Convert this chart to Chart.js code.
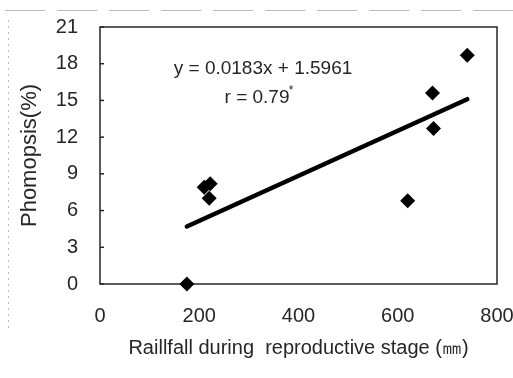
<!DOCTYPE html>
<html lang="en">
<head>
  <meta charset="UTF-8" />
  <title>Phomopsis vs rainfall</title>
  <script src="https://cdn.jsdelivr.net/npm/chart.js"></script>
  <style>
    body { margin: 0; background: #fff; }
    #wrap { width: 513px; height: 378px; }
  </style>
</head>
<body>
  <div id="wrap"><canvas id="chart" width="513" height="378"></canvas></div>
  <script>
    // observed points (rainfall mm, phomopsis %)
    const rainfall = [175, 210, 222, 220, 620, 670, 672, 740];
    const phomopsis = [0, 7.9, 8.2, 7.0, 6.8, 15.6, 12.7, 18.7];

    // regression line ends
    const fitX = [175, 740];
    const fitY = [4.7, 15.1];

    const xTicks = [0, 200, 400, 600, 800];
    const yTicks = [0, 3, 6, 9, 12, 15, 18, 21];

    const FONT = "'Liberation Sans', 'DejaVu Sans', sans-serif";
    const INK = '#262626';

    const pts = rainfall.map((x, i) => ({ x: x, y: phomopsis[i] }));
    const fit = fitX.map((x, i) => ({ x: x, y: fitY[i] }));

    const framePlugin = {
      id: 'frame',
      beforeDraw(chart) {
        const c = chart.ctx;
        c.save();
        // faint scan marks
        c.strokeStyle = '#bbb';
        c.lineWidth = 1;
        c.setLineDash([40, 12]);
        c.beginPath(); c.moveTo(5, 10.5); c.lineTo(513, 10.5); c.stroke();
        c.setLineDash([2, 4]);
        c.beginPath(); c.moveTo(8.5, 20); c.lineTo(8.5, 330); c.stroke();
        c.restore();
      },
      beforeDatasetsDraw(chart) {
        const c = chart.ctx;
        const a = chart.chartArea;
        const ys = chart.scales.y;
        c.save();
        c.strokeStyle = INK;
        c.lineWidth = 1.5;
        c.strokeRect(a.left, a.top, a.right - a.left, a.bottom - a.top);
        // short inner ticks on the y axis
        yTicks.forEach(v => {
          const py = ys.getPixelForValue(v);
          c.beginPath(); c.moveTo(a.left, py); c.lineTo(a.left + 4, py); c.stroke();
        });
        // equation text
        c.fillStyle = INK;
        c.textAlign = 'center';
        c.textBaseline = 'middle';
        c.font = '19px ' + FONT;
        c.fillText('y = 0.0183x + 1.5961', a.left + 163, a.top + 42);
        c.fillText('r = 0.79', a.left + 157, a.top + 71);
        c.font = '12px ' + FONT;
        c.fillText('*', a.left + 191, a.top + 64);
        c.restore();
      }
    };

    new Chart(document.getElementById('chart'), {
      type: 'scatter',
      data: {
        datasets: [
          {
            label: 'Phomopsis',
            data: pts,
            pointStyle: 'rectRot',
            pointRadius: 7.5,
            backgroundColor: '#000',
            borderColor: '#000',
            borderWidth: 0,
            clip: false
          },
          {
            label: 'Linear fit',
            data: fit,
            showLine: true,
            pointRadius: 0,
            borderColor: '#000',
            borderWidth: 4.5,
            borderCapStyle: 'round'
          }
        ]
      },
      options: {
        responsive: false,
        animation: false,
        layout: { padding: { left: 0, right: 16, top: 27, bottom: 18 } },
        plugins: {
          legend: { display: false },
          tooltip: { enabled: false }
        },
        scales: {
          x: {
            type: 'linear',
            min: 0, max: 800,
            afterBuildTicks: s => { s.ticks = xTicks.map(v => ({ value: v })); },
            afterFit: s => { s.height = 76; s.paddingLeft = 0; s.paddingRight = 0; },
            grid: { display: false, drawTicks: false },
            border: { display: false },
            ticks: { padding: 20, color: INK, font: { family: FONT, size: 20 } },
            title: {
              display: true,
              text: 'Raillfall during  reproductive stage (㎜)',
              color: INK,
              font: { family: FONT, size: 20 },
              padding: { top: 0, bottom: 0 }
            }
          },
          y: {
            type: 'linear',
            min: 0, max: 21,
            afterBuildTicks: s => { s.ticks = yTicks.map(v => ({ value: v })); },
            afterFit: s => { s.width = 100; s.paddingTop = 0; s.paddingBottom = 0; },
            grid: { display: false, drawTicks: false },
            border: { display: false },
            ticks: { padding: 22, color: INK, font: { family: FONT, size: 20 } },
            title: {
              display: true,
              text: 'Phomopsis(%)',
              color: INK,
              font: { family: FONT, size: 22 },
              padding: { top: 17, bottom: 0 }
            }
          }
        }
      },
      plugins: [framePlugin]
    });
  </script>
</body>
</html>
